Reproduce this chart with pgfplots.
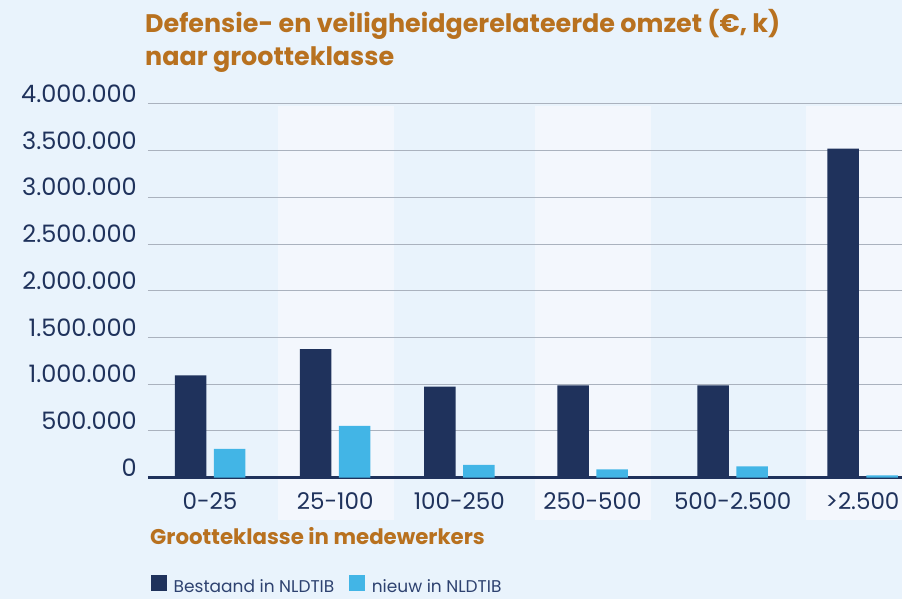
\documentclass[border=0pt]{standalone}
\usepackage{fontspec}
\setmainfont{Poppins}
\usepackage{pgfplots}
\pgfplotsset{compat=1.18}

\definecolor{bg}{HTML}{E9F3FC}
\definecolor{band}{HTML}{F3F7FD}
\definecolor{navy}{HTML}{1F325C}
\definecolor{sky}{HTML}{42B5E6}
\definecolor{titleorange}{HTML}{B8711F}
\definecolor{gridc}{HTML}{AAB2BE}
\definecolor{legtext}{HTML}{2E4270}

\begin{document}
\begin{tikzpicture}[x=1pt,y=1pt]
\clip (0,0) rectangle (902,599);
\fill[bg] (0,0) rectangle (902,599);
% lighter column bands behind the plot
\fill[band] (277.7,79) rectangle (394,493);
\fill[band] (535,79) rectangle (651,493);
\fill[band] (806,79) rectangle (910,493);
\begin{axis}[
    at={(148pt,121.3pt)}, anchor=south west,
    scale only axis, width=754pt, height=373.7pt,
    xmin=148, xmax=902,
    ymin=0, ymax=4000000,
    clip=false,
    axis line style={draw=none},
    major tick length=0pt,
    ybar, bar width=31.5pt,
    ytick={0,500000,1000000,1500000,2000000,2500000,3000000,3500000,4000000},
    scaled y ticks=false,
    ymajorgrids=true,
    grid style={gridc, line width=1pt},
    extra y ticks={0},
    extra y tick labels={},
    extra y tick style={ymajorgrids=true, major grid style={navy, line width=2.6pt}},
    xtick={210,335.2,459.3,592.5,732.7,862.5},
    xticklabels={0-25,25-100,100-250,250-500,500-2.500,>2.500},
    tick label style={font=\fontsize{23}{28}\selectfont, text=navy, inner sep=0pt},
    yticklabel style={anchor=base east, xshift=-11pt, yshift=1.5pt,
        font=\fontsize{24}{28}\selectfont,
        /pgf/number format/.cd, fixed, 1000 sep={.}, assume math mode=true},
    xticklabel style={anchor=base, yshift=-32pt},
    title={Defensie- en veiligheidgerelateerde omzet (€, k)\\naar grootteklasse},
    title style={at={(axis description cs:-0.004,1.238)}, anchor=north west,
        align=left, inner sep=0pt, text=titleorange,
        font=\fontsize{25.4}{33}\selectfont\bfseries},
    xlabel={Grootteklasse in medewerkers},
    xlabel style={at={(axis description cs:0.0027,-0.18)}, anchor=base west,
        inner sep=0pt, text=titleorange,
        font=\fontsize{21.3}{26}\selectfont\bfseries},
    legend columns=2,
    legend style={draw=none, fill=none, inner sep=0pt,
        at={(axis description cs:0.004,-0.2603)}, anchor=north west,
        font=\fontsize{17}{20}\selectfont, text=legtext,
        nodes={inner sep=0pt},
        /tikz/every odd column/.append style={column sep=7pt},
        /tikz/every even column/.append style={column sep=15pt}},
    legend image code/.code={\fill[#1] (0pt,-4pt) rectangle (15.5pt,11.5pt);},
]
\addplot[fill=navy, draw=none, bar shift=-19.5pt] coordinates {
    (210,1095000) (335.2,1377000) (459.3,976000) (592.5,987000) (732.7,987000) (862.5,3522000)
};
\addlegendentry{Bestaand in NLDTIB}
\addplot[fill=sky, draw=none, bar shift=19.5pt] coordinates {
    (210,308000) (335.2,554000) (459.3,136000) (592.5,90000) (732.7,122000) (862.5,26000)
};
\addlegendentry{nieuw in NLDTIB}
\end{axis}
\end{tikzpicture}
\end{document}
